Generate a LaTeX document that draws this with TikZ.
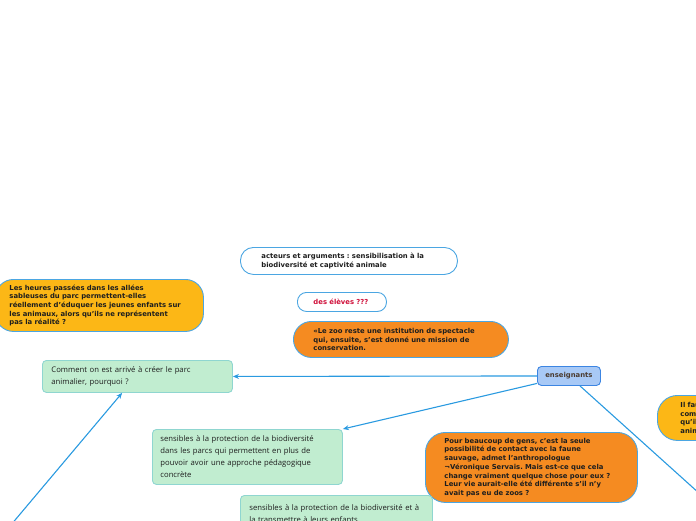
\documentclass[tikz,border=0pt]{standalone}
\usepackage{fontspec}
\setmainfont{DejaVu Sans}
\newfontfamily\greenfont{Open Sans}
\usetikzlibrary{arrows.meta}
\frenchspacing
\definecolor{bord}{HTML}{4BA6E2}
\definecolor{yel}{HTML}{FCB716}
\definecolor{ora}{HTML}{F58B21}
\definecolor{grn}{HTML}{C1EDD0}
\definecolor{grnb}{HTML}{8FD6D0}
\definecolor{ensf}{HTML}{A8C9F6}
\definecolor{ensb}{HTML}{3C85E2}
\definecolor{txt}{HTML}{1E1E1E}
\definecolor{redt}{HTML}{D0103A}
\definecolor{enst}{HTML}{4A3B30}
\definecolor{conn}{HTML}{2A9AE0}
\tikzset{
  box/.style={draw=bord, line width=0.9pt, anchor=north west, align=left, inner ysep=0pt,
    font=\bfseries\fontsize{6.85}{8.7}\selectfont, text=txt},
  gbox/.style={box, fill=grn, draw=grnb, rounded corners=4pt,
    font=\greenfont\fontsize{7.7}{12}\selectfont},
  conline/.style={draw=conn, line width=1.1pt},
  conarrow/.style={conline, -{Stealth[length=6pt,width=5pt]}}
}
\begin{document}
\begin{tikzpicture}[x=1pt,y=1pt]
\useasboundingbox (0,0) rectangle (696,-520);
\clip (0,0) rectangle (696,-520);

\node[box, fill=yel, rounded corners=18pt, minimum width=208, minimum height=52,
  inner xsep=14, text width=180] (q1) at (-5,-279)
  {Les heures passées dans les allées\\ sableuses du parc permettent-elles\\ réellement d’éduquer les jeunes enfants sur\\ les animaux, alors qu’ils ne représentent\\ pas la réalité ?};

\node[box, fill=white, rounded corners=13pt, minimum width=217, minimum height=27,
  inner xsep=21, text width=175] (title) at (240,-247)
  {acteurs et arguments : sensibilisation à la\\ biodiversité et captivité animale};

\node[box, fill=white, rounded corners=9pt, minimum width=89, minimum height=19,
  inner xsep=16, text width=57, text=redt] (eleves) at (297,-292)
  {des élèves ???};

\node[box, fill=ora, rounded corners=18pt, minimum width=215, minimum height=36,
  inner xsep=20, text width=175] (zoo) at (293,-321)
  {«Le zoo reste une institution de spectacle\\ qui, ensuite, s’est donné une mission de\\ conservation.};

\node[gbox, minimum width=190, minimum height=32, inner xsep=9, text width=172] (comm) at (42,-360)
  {Comment on est arrivé à créer le parc\\ animalier, pourquoi ?};

\node[box, fill=ensf, draw=ensb, rounded corners=4pt, minimum width=63, minimum height=19,
  inner xsep=2, align=center, text=enst] (ens) at (537,-366) {enseignants};

\node[gbox, minimum width=190, minimum height=55, inner xsep=8, text width=174] (sens) at (152,-429)
  {sensibles à la protection de la biodiversité\\ dans les parcs qui permettent en plus de\\ pouvoir avoir une approche pédagogique\\ concrète};

\node[box, fill=ora, rounded corners=20pt, minimum width=212, minimum height=70,
  inner xsep=19, text width=174] (gens) at (425,-432)
  {Pour beaucoup de gens, c’est la seule\\ possibilité de contact avec la faune\\ sauvage, admet l’anthropologue\\ ¬Véronique Servais. Mais est-ce que cela\\ change vraiment quelque chose pour eux ?\\ Leur vie aurait-elle été différente s’il n’y\\ avait pas eu de zoos ?};

\node[box, fill=yel, rounded corners=20pt, minimum width=110, minimum height=45,
  inner xsep=23, text width=64] (faut) at (657,-395)
  {Il faut\\ comprendre\\ qu’ils\\ animaux};

\node[gbox, minimum width=192, minimum height=36, inner xsep=9, text width=174] (sens2) at (240,-495)
  {sensibles à la protection de la biodiversité et à\\ la transmettre à leurs enfants};

\coordinate (offbr) at (710,-503);
\coordinate (offbl) at (5,-532);

\draw[conarrow] (ens.west) -- (comm.east);
\draw[conarrow] (ens) -- (sens.north east);
\draw[conline] (ens) -- (offbr);
\draw[conarrow] (offbl) -- (comm.227);
\end{tikzpicture}
\end{document}
